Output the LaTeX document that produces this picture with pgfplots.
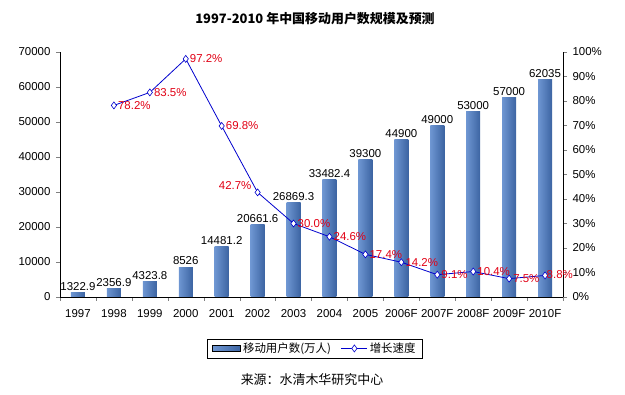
\documentclass[border=0pt]{standalone}
\usepackage{fontspec}
\setmainfont{Liberation Sans}
\newfontfamily\cjk{Noto Sans CJK SC}
\usepackage{pgfplots}
\pgfplotsset{compat=1.18}
\definecolor{barL}{RGB}{110,150,210}
\definecolor{barM}{RGB}{185,215,246}
\definecolor{barR}{RGB}{60,100,162}
\definecolor{lineblue}{RGB}{0,0,205}
\definecolor{lblred}{RGB}{225,0,20}
\pgfplotsset{
  mybar/.style={ybar, bar width=14bp, bar shift=0pt, draw=none,
    left color=barL, middle color=barM, right color=barR,
    point meta=explicit symbolic, nodes near coords,
    every node near coord/.append style={font=\fontsize{11.5}{13}\selectfont, black, inner sep=2bp},
    forget plot},
  pctlbl/.style={draw=none, mark=none, point meta=explicit symbolic, nodes near coords,
    every node near coord/.append style={font=\fontsize{11.5}{13}\selectfont, text=lblred, inner sep=1bp},
    forget plot},
}
\begin{document}
\begin{tikzpicture}
\useasboundingbox (0,0) rectangle (625bp,395bp);
\node[font=\cjk\bfseries\fontsize{13}{15}\selectfont] at (315bp,376bp) {1997-2010 年中国移动用户数规模及预测};
\node[font=\cjk\fontsize{13}{15}\selectfont] at (312bp,15bp) {来源：水清木华研究中心};
\begin{axis}[
  at={(60bp,98bp)}, anchor=south west,
  width=503bp, height=245bp, scale only axis,
  xmin=-0.5, xmax=13.5, ymin=0, ymax=70000,
  axis y line*=left, axis x line*=bottom,
  xtick={0,...,13},
  xticklabels={1997,1998,1999,2000,2001,2002,2003,2004,2005,2006F,2007F,2008F,2009F,2010F},
  major x tick style={draw=none},
  minor xtick={-0.5,0.5,...,13.5},
  tick align=outside,
  major tick length=4bp, minor tick length=4bp,
  ytick={0,10000,...,70000},
  scaled y ticks=false,
  /pgf/number format/assume math mode=true,
  /pgf/number format/set thousands separator={},
  tick label style={font=\fontsize{11.5}{13}\selectfont},
  xticklabel style={yshift=-5bp},
  yticklabel style={xshift=-2bp},
  axis line style={black},
  clip=false,
]
\addplot[mybar] coordinates {(0,1322.9) [1322.9]};
\addplot[mybar] coordinates {(1,2356.9) [2356.9]};
\addplot[mybar] coordinates {(2,4323.8) [4323.8]};
\addplot[mybar] coordinates {(3,8526) [8526]};
\addplot[mybar] coordinates {(4,14481.2) [14481.2]};
\addplot[mybar] coordinates {(5,20661.6) [20661.6]};
\addplot[mybar] coordinates {(6,26869.3) [26869.3]};
\addplot[mybar] coordinates {(7,33482.4) [33482.4]};
\addplot[mybar] coordinates {(8,39300) [39300]};
\addplot[mybar] coordinates {(9,44900) [44900]};
\addplot[mybar] coordinates {(10,49000) [49000]};
\addplot[mybar] coordinates {(11,53000) [53000]};
\addplot[mybar] coordinates {(12,57000) [57000]};
\addplot[mybar] coordinates {(13,62035) [62035]};
\end{axis}
\begin{axis}[
  at={(60bp,98bp)}, anchor=south west,
  width=503bp, height=245bp, scale only axis,
  xmin=-0.5, xmax=13.5, ymin=0, ymax=100,
  axis y line*=right, axis x line=none,
  ytick={0,10,...,100},
  yticklabel={\pgfmathprintnumber{\tick}\%},
  tick align=outside, major tick length=4bp,
  /pgf/number format/assume math mode=true,
  tick label style={font=\fontsize{11.5}{13}\selectfont},
  yticklabel style={xshift=2bp},
  clip=false,
  legend style={at={(0.507,-0.21)}, anchor=center, draw=black, line width=0.6pt,
    font=\cjk\fontsize{11.5}{13}\selectfont, legend columns=2,
    /tikz/every even column/.append style={column sep=8bp},
    inner xsep=5bp, inner ysep=2bp},
  legend image code/.code={\draw[#1] (0bp,0bp) -- (26bp,0bp); \draw[#1, mark repeat=2, mark phase=2] plot coordinates {(0bp,0bp) (13bp,0bp) (26bp,0bp)};},
]
\addlegendimage{legend image code/.code={\fill[left color=barL, middle color=barM, right color=barR, shading angle=90] (0bp,-3bp) rectangle (28bp,3bp);}}
\addlegendentry{移动用户数(万人)}
\addplot[lineblue, line width=0.8pt, mark=diamond*, mark size=3.5bp, mark options={fill=white, line width=0.6pt}]
coordinates {
(1,78.2) (2,83.5) (3,97.2) (4,69.8) (5,42.7) (6,30.0) (7,24.6) (8,17.4)
(9,14.2) (10,9.1) (11,10.4) (12,7.5) (13,8.8)
};
\addlegendentry{增长速度}
\addplot[pctlbl, every node near coord/.append style={anchor=west, xshift=3bp}]
coordinates {
(1,78.2) [78.2\%] (2,83.5) [83.5\%] (3,97.2) [97.2\%] (4,69.8) [69.8\%]
(6,30.0) [30.0\%] (7,24.6) [24.6\%] (8,17.4) [17.4\%]
(9,14.2) [14.2\%] (10,9.1) [9.1\%] (11,10.4) [10.4\%] (12,7.5) [7.5\%]
};
\addplot[pctlbl, every node near coord/.append style={anchor=west, xshift=0.5bp, yshift=1bp}]
coordinates {(13,8.8) [8.8\%]};
\addplot[pctlbl, every node near coord/.append style={anchor=south east, xshift=-5bp, yshift=2bp}]
coordinates {(5,42.7) [42.7\%]};
\end{axis}
\end{tikzpicture}
\end{document}
